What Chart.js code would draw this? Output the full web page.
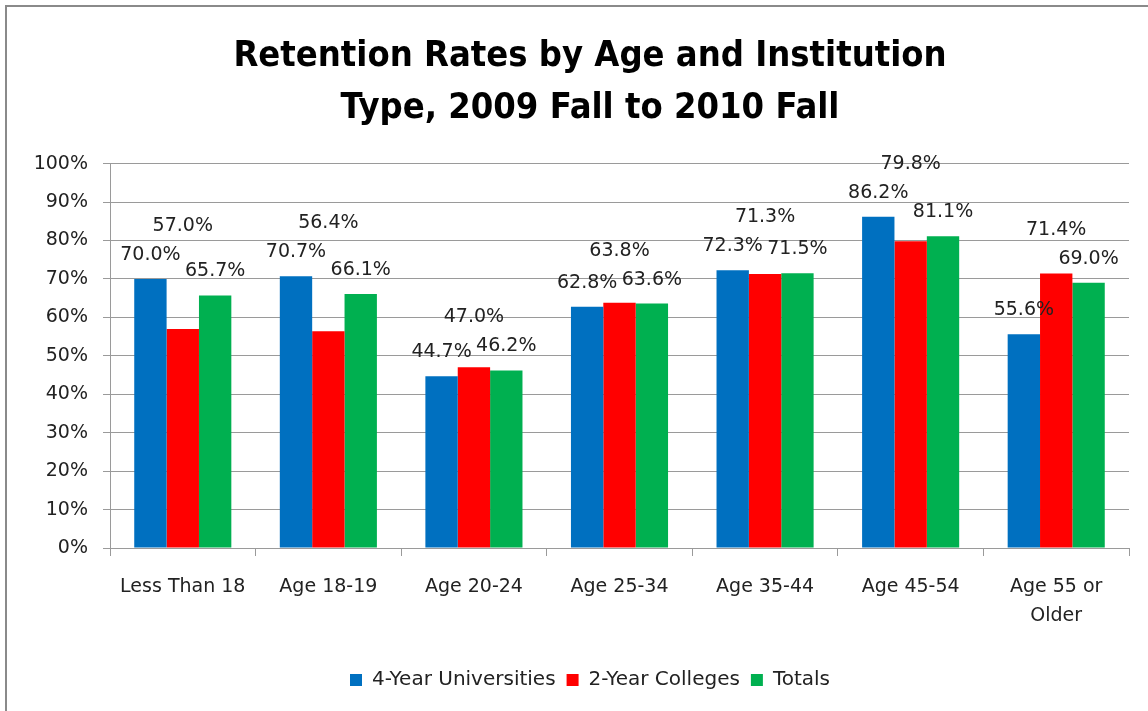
<!DOCTYPE html>
<html lang="en">
<head>
  <meta charset="UTF-8" />
  <title>Retention Rates by Age and Institution Type</title>
  <script src="https://cdn.jsdelivr.net/npm/chart.js"></script>
  <style>
    body {
      margin: 0;
      background: #fff;
    }
    #wrap {
      position: relative;
      width: 1148px;
      height: 711px;
      overflow: hidden;
    }
  </style>
</head>
<body>
  <div id="wrap">
    <canvas id="retentionChart" width="1148" height="711"></canvas>
  </div>

  <script>
    // categories and series
    const ageGroups = ['Less Than 18', 'Age 18-19', 'Age 20-24', 'Age 25-34', 'Age 35-44', 'Age 45-54', ['Age 55 or', 'Older']];
    const universities = [70.0, 70.7, 44.7, 62.8, 72.3, 86.2, 55.6];
    const colleges = [57.0, 56.4, 47.0, 63.8, 71.3, 79.8, 71.4];
    const totals = [65.7, 66.1, 46.2, 63.6, 71.5, 81.1, 69.0];
    const seriesNames = ['4-Year Universities', '2-Year Colleges', 'Totals'];
    const yTicks = [0, 10, 20, 30, 40, 50, 60, 70, 80, 90, 100];

    const textColor = '#222';
    const lineColor = '#9a9a9a';

    Chart.defaults.font.family = "'DejaVu Sans', sans-serif";
    Chart.defaults.color = textColor;

    // outer frame of the chart object (only left/top edges are visible)
    const framePlugin = {
      id: 'frame',
      beforeDraw(chart) {
        const c = chart.ctx;
        c.save();
        c.fillStyle = '#fff';
        c.fillRect(0, 0, chart.width, chart.height);
        c.strokeStyle = '#8a8a8a';
        c.lineWidth = 2;
        c.beginPath();
        c.moveTo(6, chart.height);
        c.lineTo(6, 6);
        c.lineTo(chart.width, 6);
        c.stroke();
        c.restore();
      }
    };

    // value labels above the bars; the middle series is lifted above its neighbours like the original
    const valueLabels = {
      id: 'valueLabels',
      afterDatasetsDraw(chart) {
        const c = chart.ctx;
        const metas = [0, 1, 2].map(i => chart.getDatasetMeta(i));
        c.save();
        c.font = '19px "DejaVu Sans"';
        c.fillStyle = textColor;
        c.textAlign = 'center';
        c.textBaseline = 'middle';
        ageGroups.forEach((g, i) => {
          const b = metas[0].data[i], r = metas[1].data[i], t = metas[2].data[i];
          const yb = b.y - 24;
          const yt = t.y - 24;
          const yr = Math.min(r.y - 24, yb - 29, yt - 29);
          c.fillText(universities[i].toFixed(1) + '%', b.x, yb);
          c.fillText(totals[i].toFixed(1) + '%', t.x, yt);
          c.fillText(colleges[i].toFixed(1) + '%', r.x, yr);
        });
        c.restore();
      }
    };

    const ctx = document.getElementById('retentionChart').getContext('2d');
    const chart = new Chart(ctx, {
      type: 'bar',
      data: {
        labels: ageGroups,
        datasets: [
          { label: seriesNames[0], data: universities, backgroundColor: '#0070C0' },
          { label: seriesNames[1], data: colleges, backgroundColor: '#FF0000' },
          { label: seriesNames[2], data: totals, backgroundColor: '#00B050' }
        ]
      },
      options: {
        responsive: false,
        animation: false,
        // the original chart runs past the right edge, so title and legend sit right of centre
        layout: { padding: { top: 10, right: 0, bottom: 11, left: 32 } },
        datasets: {
          bar: { categoryPercentage: 0.667, barPercentage: 1.0, borderWidth: 0 }
        },
        plugins: {
          title: {
            display: true,
            text: ['Retention Rates by Age and Institution', 'Type, 2009 Fall to 2010 Fall'],
            color: '#000',
            font: { family: "'DejaVu Sans Condensed', 'DejaVu Sans'", size: 36, weight: 'bold', lineHeight: 1.44 },
            padding: { top: 21, bottom: 29 }
          },
          legend: {
            position: 'bottom',
            labels: {
              boxWidth: 12,
              boxHeight: 12,
              padding: 11,
              color: textColor,
              font: { size: 20 }
            }
          },
          tooltip: { enabled: false }
        },
        scales: {
          x: {
            grid: { drawOnChartArea: false, drawTicks: true, tickLength: 8, offset: true, color: lineColor },
            border: { color: lineColor, width: 1 },
            ticks: { padding: 16, font: { size: 19, lineHeight: 1.55 }, color: textColor, maxRotation: 0, autoSkip: false },
            afterFit(s) { s.height = 111; }
          },
          y: {
            min: 0,
            max: 100,
            grid: { color: lineColor, tickLength: 7 },
            border: { color: lineColor, width: 1 },
            ticks: {
              stepSize: 10,
              padding: 15,
              font: { size: 19 },
              color: textColor,
              callback: v => yTicks.includes(v) ? v + '%' : ''
            },
            afterFit(s) { s.width = 78; }
          },
          // empty strip on the right so the plot stops where the original does
          yRight: {
            position: 'right',
            min: 0,
            max: 100,
            grid: { drawOnChartArea: false, drawTicks: false },
            border: { display: false },
            ticks: { display: false },
            afterFit(s) { s.width = 19; }
          }
        }
      },
      plugins: [framePlugin, valueLabels]
    });
  </script>
</body>
</html>
